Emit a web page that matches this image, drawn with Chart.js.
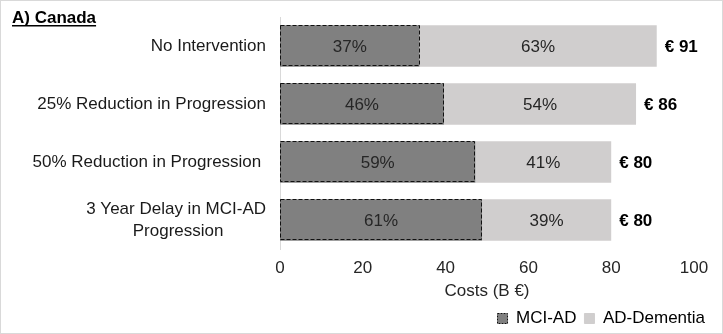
<!DOCTYPE html>
<html>
<head>
<meta charset="utf-8">
<script src="https://cdn.jsdelivr.net/npm/chart.js@4"></script>
<style>
  html, body { margin: 0; padding: 0; background: #fff; }
  #wrap { width: 723px; height: 334px; position: relative; }
</style>
</head>
<body>
<div id="wrap"><canvas id="costChart" width="723" height="334"></canvas></div>
<script>
const categories = [
  'No Intervention',
  '25% Reduction in Progression',
  '50% Reduction in Progression ',
  ['3 Year Delay in MCI-AD', 'Progression         ']
];
const mciCosts = [33.7, 39.6, 47.2, 48.8];
const adCosts = [57.3, 46.4, 32.8, 31.2];
const xTicks = [0, 20, 40, 60, 80, 100];

const FONT = '"Liberation Sans", Arial, sans-serif';
const DARK = '#808080';
const LIGHT = '#d0cece';

const totals = mciCosts.map((v, i) => v + adCosts[i]);

const decorPlugin = {
  id: 'decor',
  beforeDraw(chart) {
    const { ctx, width, height } = chart;
    ctx.save();
    ctx.fillStyle = '#fff';
    ctx.fillRect(0, 0, width, height);
    ctx.strokeStyle = '#d9d9d9';
    ctx.lineWidth = 1;
    ctx.strokeRect(0.5, 0.5, width - 1, height - 1);
    ctx.restore();
  },
  afterDatasetsDraw(chart) {
    const { ctx } = chart;
    ctx.save();
    // dashed outline on the MCI-AD segments
    const meta0 = chart.getDatasetMeta(0);
    ctx.strokeStyle = '#111';
    ctx.lineWidth = 1;
    ctx.setLineDash([4, 2]);
    meta0.data.forEach(bar => {
      const { x, y, base, height } = bar.getProps(['x', 'y', 'base', 'height'], true);
      ctx.strokeRect(Math.round(base) + 0.5, Math.round(y - height / 2) + 0.5,
        Math.round(x - base) - 1, Math.round(height) - 1);
    });
    ctx.setLineDash([]);

    // percentage labels in each segment
    ctx.font = '17px ' + FONT;
    ctx.fillStyle = '#262626';
    ctx.textAlign = 'center';
    ctx.textBaseline = 'middle';
    [0, 1].forEach(di => {
      const meta = chart.getDatasetMeta(di);
      const vals = chart.data.datasets[di].data;
      meta.data.forEach((bar, i) => {
        const { x, y, base } = bar.getProps(['x', 'y', 'base'], true);
        const pct = Math.round(vals[i] / totals[i] * 100) + '%';
        ctx.fillText(pct, (x + base) / 2, y + 1);
      });
    });

    // totals to the right
    ctx.font = 'bold 17px ' + FONT;
    ctx.fillStyle = '#000';
    ctx.textAlign = 'left';
    const meta1 = chart.getDatasetMeta(1);
    meta1.data.forEach((bar, i) => {
      const { x, y } = bar.getProps(['x', 'y'], true);
      ctx.fillText('€ ' + Math.round(totals[i]), x + 8, y + 1);
    });

    // panel title
    ctx.font = 'bold 17px ' + FONT;
    ctx.textAlign = 'left';
    ctx.textBaseline = 'alphabetic';
    const t = 'A) Canada';
    ctx.fillText(t, 12, 23);
    const w = ctx.measureText(t).width;
    ctx.fillRect(12, 25, w, 1.5);
    ctx.restore();
  }
};

new Chart(document.getElementById('costChart'), {
  type: 'bar',
  data: {
    labels: categories,
    datasets: [
      { label: 'MCI-AD', data: mciCosts, backgroundColor: DARK, borderWidth: 0 },
      { label: 'AD-Dementia', data: adCosts, backgroundColor: LIGHT, borderWidth: 0 }
    ]
  },
  options: {
    indexAxis: 'y',
    responsive: false,
    animation: false,
    devicePixelRatio: 1,
    datasets: { bar: { categoryPercentage: 1, barPercentage: 0.715 } },
    layout: { padding: { left: 10, right: 10, top: 17, bottom: -3 } },
    scales: {
      x: {
        stacked: true, min: 0, max: 100,
        afterBuildTicks: axis => { axis.ticks = xTicks.map(v => ({ value: v })); },
        afterFit: axis => { axis.height = 53; axis.paddingRight = 29; axis.paddingLeft = 0; },
        grid: { display: false, drawTicks: false },
        border: { display: false },
        ticks: { color: '#262626', font: { family: FONT, size: 17 }, padding: 9 },
        title: { display: true, text: 'Costs (B €)', color: '#262626', font: { family: FONT, size: 17 }, padding: { top: 2, bottom: 0 } }
      },
      y: {
        stacked: true,
        grid: { display: false, drawTicks: false },
        border: { display: true, color: '#d9d9d9', width: 1 },
        afterFit: axis => { axis.width = 270; axis.paddingTop = 0; axis.paddingBottom = 0; },
        ticks: { color: '#1a1a1a', font: { family: FONT, size: 17, lineHeight: 1.3 }, padding: 14 }
      }
    },
    plugins: {
      tooltip: { enabled: false },
      legend: {
        position: 'bottom',
        align: 'end',
        labels: {
          font: { family: FONT, size: 17 },
          color: '#1a1a1a',
          boxWidth: 10,
          boxHeight: 10,
          padding: 8,
          generateLabels: chart => chart.data.datasets.map((ds, i) => ({
            text: ds.label,
            fillStyle: ds.backgroundColor,
            strokeStyle: i === 0 ? '#111' : ds.backgroundColor,
            lineWidth: 1,
            lineDash: i === 0 ? [2, 1] : [],
            datasetIndex: i
          }))
        }
      }
    }
  },
  plugins: [decorPlugin]
});
</script>
</body>
</html>
